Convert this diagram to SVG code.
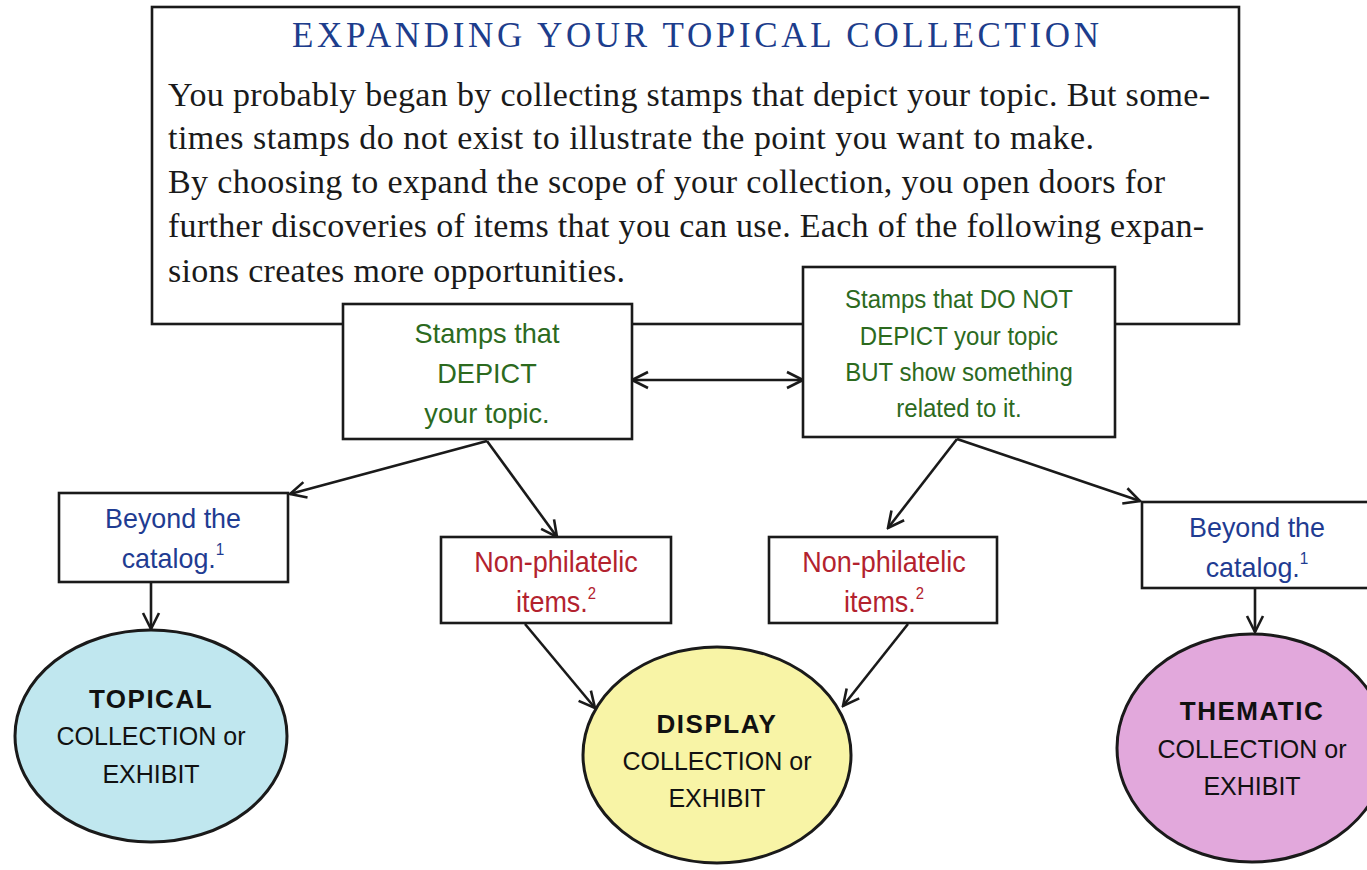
<svg xmlns="http://www.w3.org/2000/svg" width="1367" height="870" viewBox="0 0 1367 870">
<style>
.box{fill:#fff;stroke:#1a1a1a;stroke-width:2.6}
.ell{stroke:#1a1a1a;stroke-width:3}
.conn{fill:none;stroke:#1a1a1a;stroke-width:2.6}
.title{font-family:"Liberation Serif",serif;font-size:35px;fill:#1d3d8c}
.para{font-family:"Liberation Serif",serif;font-size:34px;fill:#1a1a1a}
.sans{font-family:"Liberation Sans",Arial,sans-serif;text-anchor:middle}
.green{fill:#2c6a1e;font-size:28px}
.green2{fill:#2c6a1e;font-size:25px}
.blue{fill:#1f3c92;font-size:28px}
.red{fill:#b3222e;font-size:29px}
.eltxt{fill:#111;font-size:25px}
.bold{font-weight:bold;font-size:26px;letter-spacing:1.5px}
.sup{font-size:16px}
</style>
<defs>
<marker id="ah" markerUnits="userSpaceOnUse" markerWidth="20" markerHeight="20" viewBox="0 0 20 20" refX="18" refY="10" orient="auto-start-reverse">
<path d="M2,2 L18,10 L2,18" fill="none" stroke="#1a1a1a" stroke-width="2.6"/>
</marker>
</defs>
<rect width="1367" height="870" fill="#fff"/>

<g id="intro">
<rect class="box" x="152" y="7" width="1087" height="317"/>
<text class="title" x="292" y="47" textLength="807" lengthAdjust="spacing">EXPANDING YOUR TOPICAL COLLECTION</text>
<text class="para" x="168" y="106" textLength="1042" lengthAdjust="spacing">You probably began by collecting stamps that depict your topic. But some-</text>
<text class="para" x="168" y="149" textLength="926" lengthAdjust="spacing">times stamps do not exist to illustrate the point you want to make.</text>
<text class="para" x="168" y="193" textLength="997" lengthAdjust="spacing">By choosing to expand the scope of your collection, you open doors for</text>
<text class="para" x="168" y="237" textLength="1036" lengthAdjust="spacing">further discoveries of items that you can use. Each of the following expan-</text>
<text class="para" x="168" y="282" textLength="457" lengthAdjust="spacing">sions creates more opportunities.</text>
</g>

<g id="connectors">
<line class="conn" x1="632" y1="380" x2="803" y2="380" marker-start="url(#ah)" marker-end="url(#ah)"/>
<line class="conn" x1="487" y1="441" x2="290" y2="494" marker-end="url(#ah)"/>
<line class="conn" x1="487" y1="441" x2="557" y2="537" marker-end="url(#ah)"/>
<line class="conn" x1="957" y1="439" x2="888" y2="528" marker-end="url(#ah)"/>
<line class="conn" x1="957" y1="439" x2="1140" y2="501" marker-end="url(#ah)"/>
<line class="conn" x1="151" y1="582" x2="151" y2="629" marker-end="url(#ah)"/>
<line class="conn" x1="1255" y1="588" x2="1255" y2="632" marker-end="url(#ah)"/>
<line class="conn" x1="525" y1="624" x2="595" y2="708" marker-end="url(#ah)"/>
<line class="conn" x1="908" y1="624" x2="843" y2="706" marker-end="url(#ah)"/>
</g>

<g id="depict">
<rect class="box" x="343" y="304" width="289" height="135"/>
<g transform="translate(487 0) scale(0.97 1)">
<text class="sans green" x="0" y="343">Stamps that</text>
<text class="sans green" x="0" y="383">DEPICT</text>
<text class="sans green" x="0" y="423">your topic.</text>
</g>
</g>

<g id="related">
<rect class="box" x="803" y="267" width="312" height="170"/>
<g transform="translate(959 0) scale(0.96 1)">
<text class="sans green2" x="0" y="308">Stamps that DO NOT</text>
<text class="sans green2" x="0" y="345">DEPICT your topic</text>
<text class="sans green2" x="0" y="381">BUT show something</text>
<text class="sans green2" x="0" y="417">related to it.</text>
</g>
</g>

<g id="beyond-left">
<rect class="box" x="59" y="493" width="229" height="89"/>
<g transform="translate(173 0) scale(0.96 1)">
<text class="sans blue" x="0" y="528">Beyond the</text>
<text class="sans blue" x="0" y="568">catalog.<tspan class="sup" dy="-13">1</tspan></text>
</g>
</g>

<g id="nonphil-left">
<rect class="box" x="441" y="537" width="230" height="86"/>
<g transform="translate(556 0) scale(0.93 1)">
<text class="sans red" x="0" y="572">Non-philatelic</text>
<text class="sans red" x="0" y="612">items.<tspan class="sup" dy="-13">2</tspan></text>
</g>
</g>

<g id="nonphil-right">
<rect class="box" x="769" y="537" width="228" height="86"/>
<g transform="translate(884 0) scale(0.93 1)">
<text class="sans red" x="0" y="572">Non-philatelic</text>
<text class="sans red" x="0" y="612">items.<tspan class="sup" dy="-13">2</tspan></text>
</g>
</g>

<g id="beyond-right">
<rect class="box" x="1142" y="502" width="250" height="86"/>
<g transform="translate(1257 0) scale(0.96 1)">
<text class="sans blue" x="0" y="537">Beyond the</text>
<text class="sans blue" x="0" y="577">catalog.<tspan class="sup" dy="-13">1</tspan></text>
</g>
</g>

<g id="topical">
<ellipse class="ell" cx="151" cy="736" rx="136" ry="106" fill="#c0e7ef"/>
<text class="sans eltxt bold" x="151" y="708">TOPICAL</text>
<text class="sans eltxt" x="151" y="745">COLLECTION or</text>
<text class="sans eltxt" x="151" y="783">EXHIBIT</text>
</g>

<g id="display">
<ellipse class="ell" cx="717" cy="755" rx="134" ry="108" fill="#f8f4a6"/>
<text class="sans eltxt bold" x="717" y="733">DISPLAY</text>
<text class="sans eltxt" x="717" y="770">COLLECTION or</text>
<text class="sans eltxt" x="717" y="807">EXHIBIT</text>
</g>

<g id="thematic">
<ellipse class="ell" cx="1252" cy="748" rx="135" ry="114" fill="#e2a8dc"/>
<text class="sans eltxt bold" x="1252" y="720">THEMATIC</text>
<text class="sans eltxt" x="1252" y="758">COLLECTION or</text>
<text class="sans eltxt" x="1252" y="795">EXHIBIT</text>
</g>
</svg>
